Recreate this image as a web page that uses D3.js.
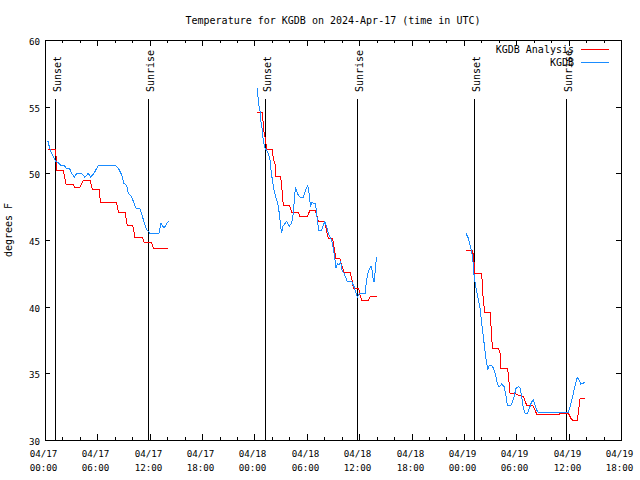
<!DOCTYPE html>
<html><head><meta charset="utf-8">
<script src="https://cdn.jsdelivr.net/npm/d3@7/dist/d3.min.js"></script>
<style>
html,body{margin:0;padding:0;background:#fff;}
text{font-family:"DejaVu Sans Mono",monospace;fill:#000;}
</style></head>
<body><svg id="c" width="640" height="480"></svg>
<script>
// hours after 2024-04-17 00:00 UTC; null separates data gaps
const analysisHours = [0.34,1.22,1.30,1.34,2.10,2.41,3.25,3.36,4.01,4.39,5.16,5.42,6.23,6.34,8.21,8.40,9.17,9.43,10.05,10.31,11.15,11.38,12.22,12.41,14.13,null,
 24.33,24.94,25.02,25.17,25.32,25.40,26.05,26.16,26.35,26.43,27.00,27.12,27.31,28.00,28.26,29.03,29.22,30.06,30.37,30.94,31.13,31.32,32.08,32.20,32.28,32.47,32.96,33.04,33.15,33.31,33.80,33.99,34.26,34.95,35.22,35.33,35.94,36.09,36.29,37.05,37.32,38.00,null,
 48.24,48.93,49.08,49.27,50.04,50.15,50.31,50.38,50.99,51.11,51.26,51.95,52.14,52.22,52.98,53.09,53.21,53.29,53.86,54.05,54.81,55.20,55.88,56.34,57.95,58.10,58.82,59.09,59.97,60.28,60.43,61.00,61.15,61.31,61.88];
const analysisTemps = [51.8,51.8,50.9,50.2,50.2,49.2,49.2,48.95,48.95,49.5,49.5,48.8,48.8,47.8,47.8,47.1,47.1,46.1,46.1,45.2,45.2,44.8,44.8,44.4,44.4,null,
 54.6,54.6,53.3,52.9,52.25,51.8,51.8,51.1,50.75,49.75,49.75,49.0,47.6,47.6,47.1,47.1,46.75,46.75,47.25,47.25,46.9,46.4,46.4,45.9,45.6,45.1,45.1,44.75,44.4,43.6,43.6,43.1,42.6,42.6,41.9,41.4,41.4,40.9,40.5,40.5,40.8,40.8,null,
 44.25,44.25,43.9,42.5,42.5,41.1,40.0,39.6,39.6,38.5,36.9,36.9,36.5,35.4,35.4,35.0,34.0,33.5,33.5,33.4,33.25,32.6,32.6,31.95,31.95,31.9,31.9,32.0,32.0,31.6,31.5,31.5,32.25,33.1,33.1];

const obsHours = [0.34,0.57,0.95,1.22,1.53,1.80,2.18,2.41,2.79,3.06,3.36,3.63,4.20,4.58,4.96,5.23,5.61,6.11,8.02,8.40,8.78,9.05,9.36,9.55,9.93,10.20,10.43,10.88,11.11,11.38,11.65,12.03,13.06,13.29,13.64,14.13,null,
 24.33,24.445,24.64,24.75,24.90,25.02,25.21,25.40,25.59,25.78,25.90,26.05,26.24,26.43,26.66,26.85,27.00,27.12,27.23,27.50,27.69,28.00,28.26,28.46,28.57,28.69,28.91,29.22,29.60,29.87,30.10,30.25,30.44,30.56,30.94,31.05,31.21,31.36,31.70,31.89,32.08,32.28,32.47,32.66,32.85,33.04,33.19,33.34,33.50,33.69,33.88,34.03,34.26,34.49,34.64,35.14,35.41,35.64,35.79,35.90,36.09,36.67,36.86,37.05,37.32,37.43,37.55,37.70,37.81,37.93,38.00,null,
 48.24,48.51,48.70,48.89,49.01,49.08,49.16,49.31,49.47,49.66,49.85,50.04,50.23,50.42,50.61,50.73,50.84,50.99,51.26,51.45,51.68,51.87,52.06,52.33,52.60,52.83,52.98,53.29,53.51,53.74,53.97,54.28,54.43,54.62,54.81,55.00,55.27,55.50,55.77,55.96,56.15,56.34,56.53,59.97,60.16,60.47,60.66,60.85,61.00,61.19,61.38,61.61,61.88];
const obsTemps = [52.4,51.8,51.25,50.9,50.8,50.6,50.6,50.4,50.4,50.0,49.7,50.0,50.0,49.7,50.0,49.7,50.0,50.6,50.6,50.4,49.9,49.25,49.1,48.5,48.25,47.75,47.4,47.35,46.9,46.25,45.8,45.5,45.5,46.25,45.9,46.4,null,
 56.38,55.38,54.63,53.88,53.25,52.38,51.88,51.75,51.5,51.0,50.25,49.5,48.75,48.25,47.75,47.0,46.0,45.5,46.0,46.25,46.38,46.05,46.25,47.0,48.0,48.95,48.5,48.2,48.2,48.75,49.1,48.5,47.5,47.8,47.75,47.38,46.5,45.75,45.75,46.13,46.38,46.0,45.5,45.25,45.0,44.38,43.75,42.88,43.25,43.13,43.38,42.75,42.5,42.13,41.88,41.88,41.5,41.0,40.7,40.88,41.0,41.0,42.0,42.63,43.0,43.0,42.25,41.88,42.5,43.38,43.75,null,
 45.5,45.13,44.63,44.13,43.63,43.1,42.38,41.7,41.13,40.5,39.88,38.75,37.75,36.63,35.75,35.25,35.5,35.63,35.55,35.25,34.75,34.13,34.0,34.2,34.0,33.25,32.63,32.55,32.75,33.25,33.88,34.0,33.88,33.25,32.38,32.0,32.0,32.38,32.88,33.0,32.63,32.25,32.05,32.05,32.5,33.25,33.88,34.38,34.7,34.5,34.2,34.25,34.33];

const sunEventHours = [1.15, 11.80, 25.21, 35.75, 49.16, 59.70];
const sunEventLabels = ["Sunset","Sunrise","Sunset","Sunrise","Sunset","Sunrise"];
const seriesNames = ["KGDB Analysis","KGDB"];
const seriesColors = ["#ff0000","#1a8cff"];
const yTicks = [30,35,40,45,50,55,60];
const titleText = "Temperature for KGDB on 2024-Apr-17 (time in UTC)";
const yLabel = "degrees F";

const t0 = Date.UTC(2024,3,17,0,0);
const toDate = h => new Date(t0 + h*3600000);

const L=45, R=621, T=40, B=440;
const svg = d3.select("#c");
const x = d3.scaleUtc().domain([toDate(0), toDate(66)]).range([L,R]);
const y = d3.scaleLinear().domain([30,60]).range([B,T]);

// title
svg.append("text").attr("x",(L+R)/2).attr("y",24).attr("text-anchor","middle")
  .style("font-size","10px").text(titleText);
// y label
svg.append("text").attr("transform","translate(12,230) rotate(-90)").attr("text-anchor","middle")
  .style("font-size","10px").text(yLabel);

const g = svg.append("g").attr("shape-rendering","crispEdges");
// ticks
const majorX = d3.utcHour.every(6).range(toDate(0), toDate(66.01));
const minorX = d3.utcHour.every(2).range(toDate(0), toDate(66.01)).filter(d => d.getUTCHours()%6 !== 0);
majorX.forEach(d => {
  const xx = Math.round(x(d))+0.5;
  g.append("line").attr("x1",xx).attr("x2",xx).attr("y1",B).attr("y2",B-6).attr("stroke","#000");
  g.append("line").attr("x1",xx).attr("x2",xx).attr("y1",T).attr("y2",T+6).attr("stroke","#000");
  const tx = svg.append("text").attr("x",xx-2).attr("text-anchor","middle").style("font-size","9.2px");
  tx.append("tspan").attr("x",xx-2).attr("y",457).text(d3.utcFormat("%m/%d")(d));
  tx.append("tspan").attr("x",xx-2).attr("y",471).text(d3.utcFormat("%H:%M")(d));
});
minorX.forEach(d => {
  const xx = Math.round(x(d))+0.5;
  g.append("line").attr("x1",xx).attr("x2",xx).attr("y1",B).attr("y2",B-3).attr("stroke","#000");
  g.append("line").attr("x1",xx).attr("x2",xx).attr("y1",T).attr("y2",T+3).attr("stroke","#000");
});
yTicks.forEach(v => {
  const yy = Math.round(y(v))+0.5;
  g.append("line").attr("x1",L).attr("x2",L+5).attr("y1",yy).attr("y2",yy).attr("stroke","#000");
  g.append("line").attr("x1",R).attr("x2",R-5).attr("y1",yy).attr("y2",yy).attr("stroke","#000");
  svg.append("text").attr("x",40).attr("y",yy+4).attr("text-anchor","end").style("font-size","9.2px").text(v);
});

// sun events
sunEventHours.forEach((h,i) => {
  const xx = Math.round(x(toDate(h)))+0.5;
  g.append("line").attr("x1",xx).attr("x2",xx).attr("y1",99).attr("y2",B).attr("stroke","#000");
  svg.append("text").attr("transform",`translate(${xx+5},92) rotate(-90)`).attr("text-anchor","start")
    .style("font-size","10px").text(sunEventLabels[i]);
});

// data lines
function series(hours, temps){
  return hours.map((h,i) => ({h, v: temps[i]}));
}
const line = d3.line().defined(d => d.h !== null && d.v !== null)
  .x(d => x(toDate(d.h))).y(d => y(d.v));
const dataG = svg.append("g").attr("shape-rendering","crispEdges");
dataG.append("path").datum(series(analysisHours, analysisTemps)).attr("d", line)
  .attr("fill","none").attr("stroke",seriesColors[0]).attr("stroke-width",1);
dataG.append("path").datum(series(obsHours, obsTemps)).attr("d", line)
  .attr("fill","none").attr("stroke",seriesColors[1]).attr("stroke-width",1);

// legend
seriesNames.forEach((n,i) => {
  const ly = 49 + i*13;
  svg.append("text").attr("x",574).attr("y",ly+4).attr("text-anchor","end").style("font-size","10px").text(n);
  g.append("line").attr("x1",581).attr("x2",609).attr("y1",ly+0.5).attr("y2",ly+0.5).attr("stroke",seriesColors[i]);
});

// border
g.append("rect").attr("x",L+0.5).attr("y",T+0.5).attr("width",R-L).attr("height",B-T)
  .attr("fill","none").attr("stroke","#000");
</script></body></html>
